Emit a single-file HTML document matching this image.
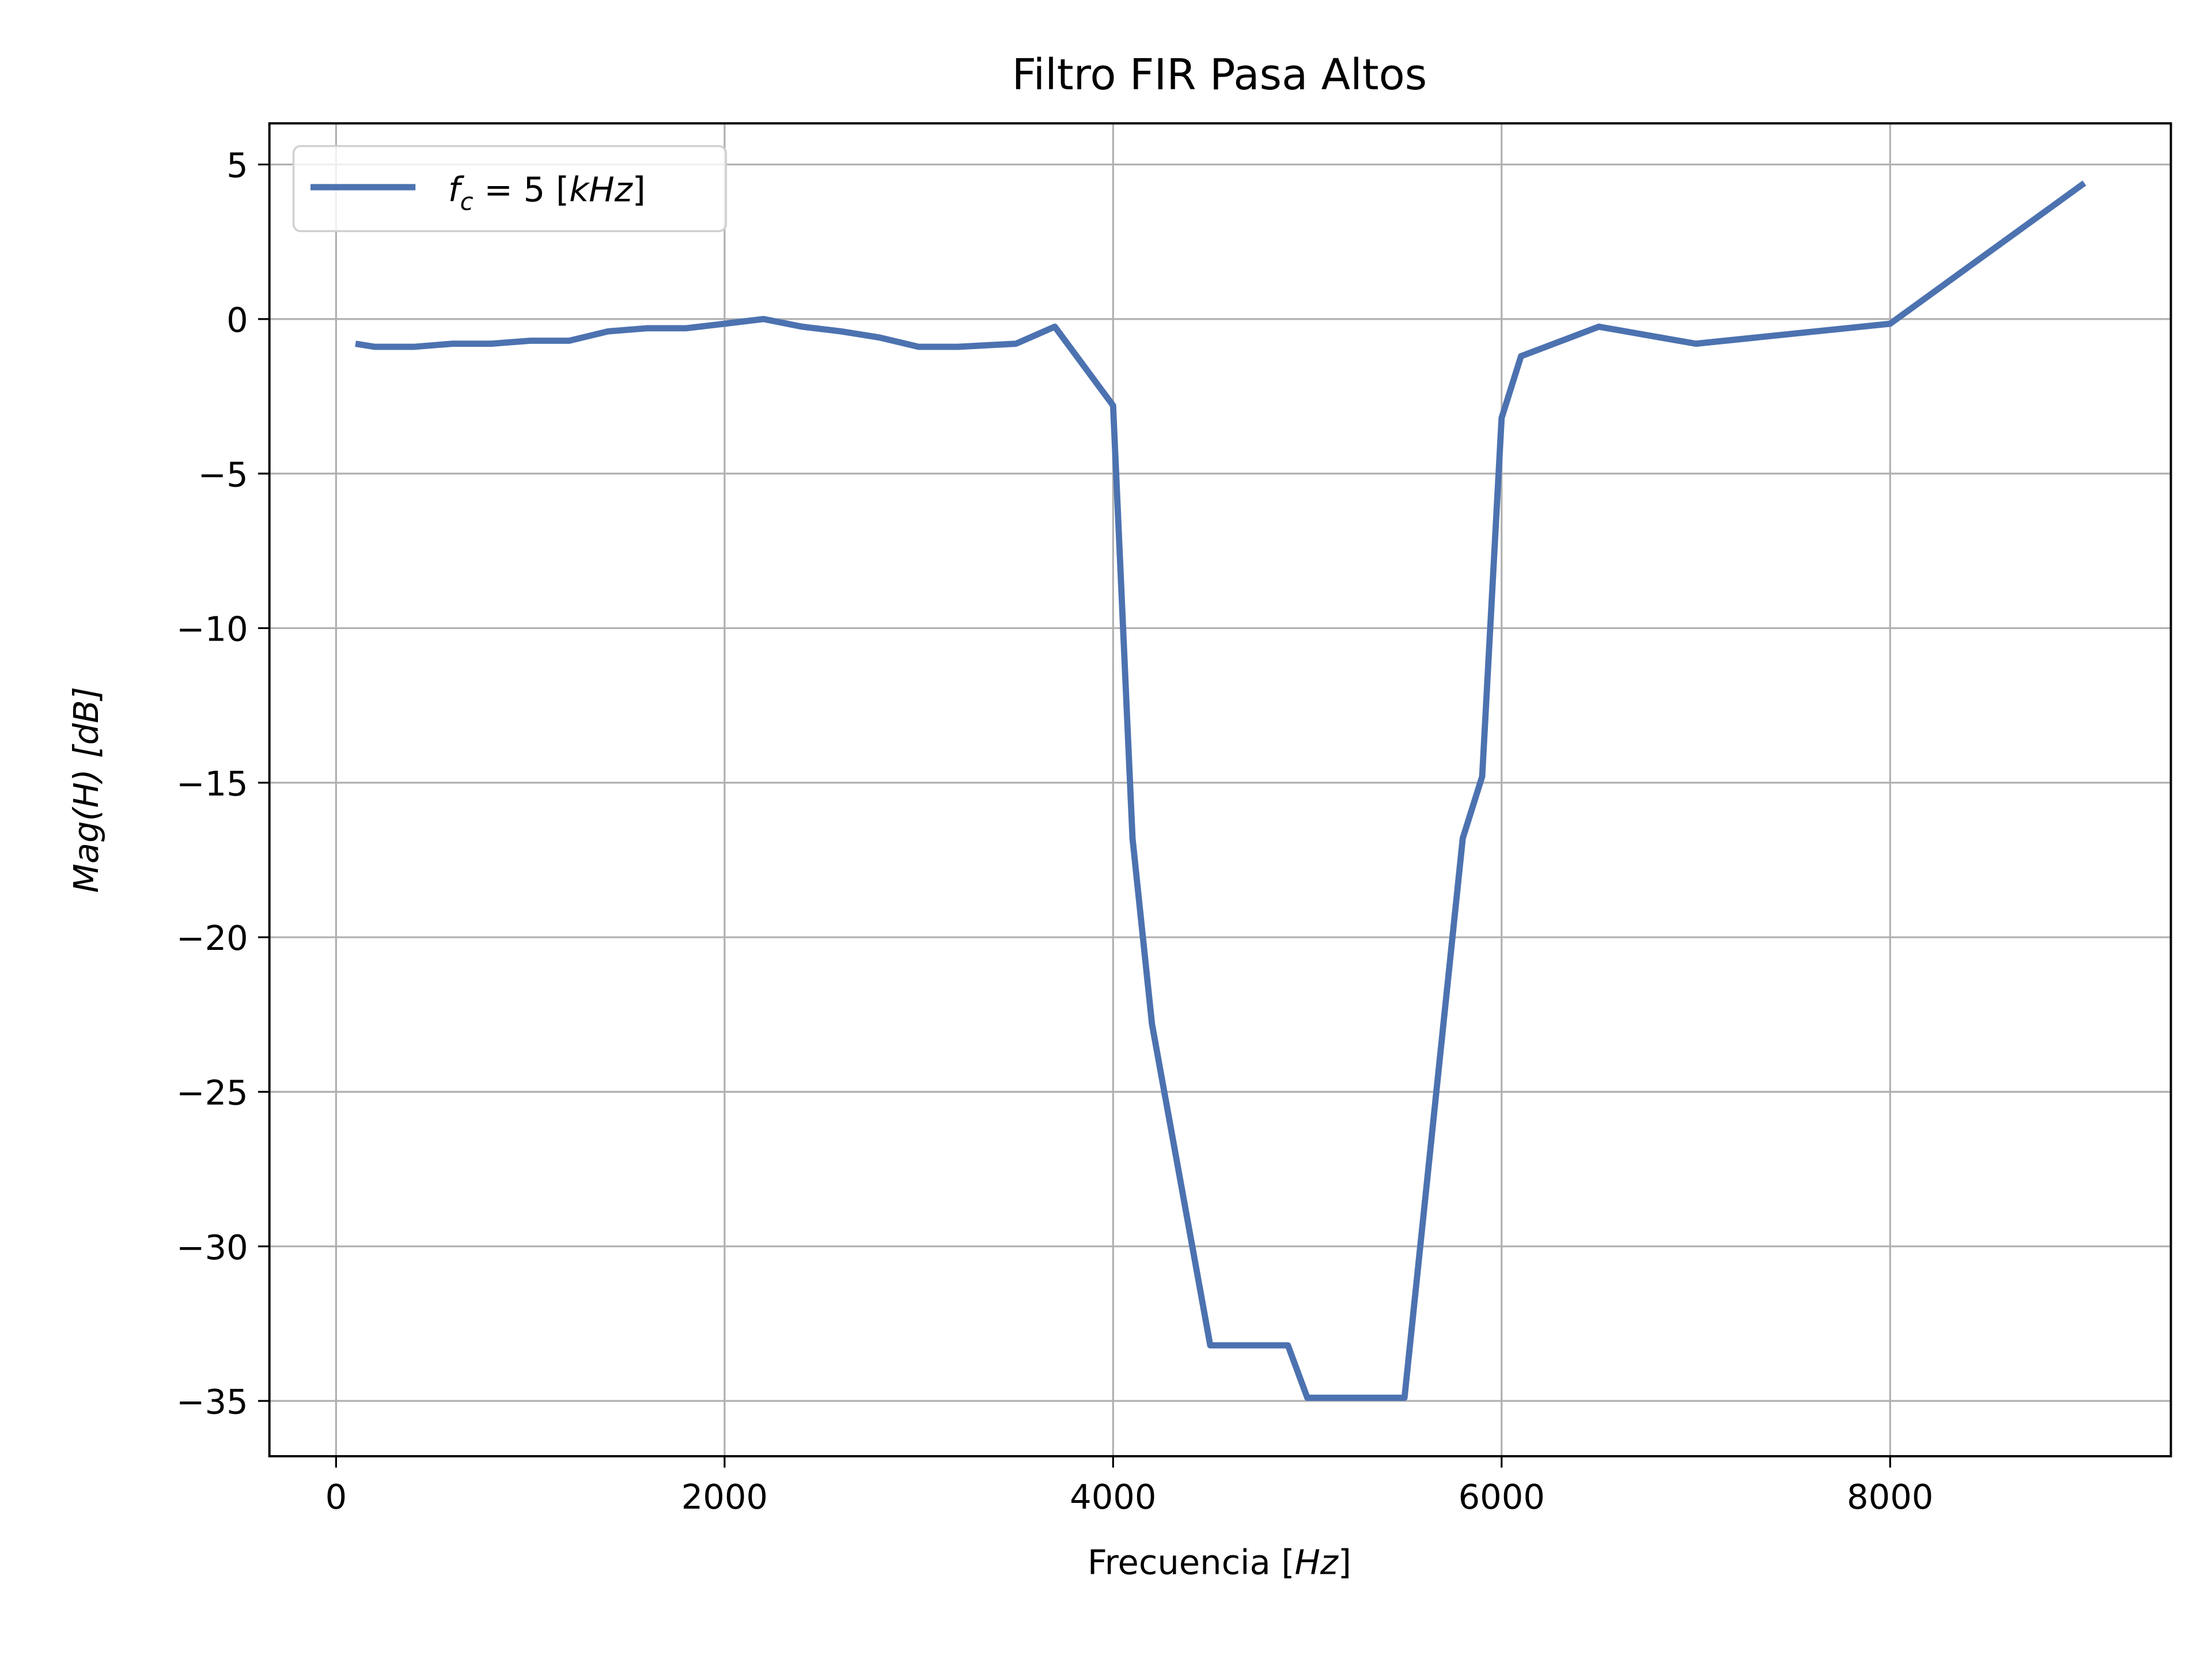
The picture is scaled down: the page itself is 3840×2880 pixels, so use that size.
<!DOCTYPE html>
<html><head><meta charset="utf-8"><style>
html,body{margin:0;padding:0;background:#fff;}
svg{display:block;}
text{font-family:"DejaVu Sans","Liberation Sans",sans-serif;fill:#000;}
</style></head><body>
<svg id="chart" width="3840" height="2880" viewBox="0 0 1560 1170" xmlns="http://www.w3.org/2000/svg">
<rect width="1560" height="1170" fill="#fff"/>
<g id="grid"></g>
<g id="ticks"></g>
<path id="series" fill="none" stroke="#4c72b0" stroke-width="4.4" stroke-linejoin="round"/>
<rect x="190" y="87" width="1341" height="940" fill="none" stroke="#000" stroke-width="1.6"/>
<text x="860" y="63" font-size="30" text-anchor="middle">Filtro FIR Pasa Altos</text>
<text x="860" y="1110" font-size="24" text-anchor="middle">Frecuencia [<tspan font-style="italic">Hz</tspan>]</text>
<text transform="translate(69,557) rotate(-90)" font-size="24" text-anchor="middle" font-style="italic">Mag(H) [dB]</text>
<g>
<rect x="207" y="103" width="305" height="60" rx="5" fill="#fff" fill-opacity="0.8" stroke="#d0d0d0" stroke-width="1.4"/>
<line x1="219" y1="132" x2="293" y2="132" stroke="#4c72b0" stroke-width="4.4"/>
<text x="316" y="142" font-size="24"><tspan font-style="italic">f</tspan><tspan font-style="italic" font-size="17" dy="6">c</tspan><tspan dy="-6"> = 5 [</tspan><tspan font-style="italic">kHz</tspan>]</text>
</g>
</svg>
<script>
const freqs=[100,200,400,600,800,1000,1200,1400,1600,1800,2000,2200,2400,2600,2800,3000,3200,3500,3700,4000,4100,4200,4500,4900,5000,5500,5800,5900,6000,6100,6500,7000,8000,9000];
const mags=[-0.8,-0.9,-0.9,-0.8,-0.8,-0.7,-0.7,-0.4,-0.3,-0.3,-0.15,0,-0.25,-0.4,-0.6,-0.9,-0.9,-0.8,-0.25,-2.8,-16.8,-22.8,-33.2,-33.2,-34.9,-34.9,-16.8,-14.8,-3.2,-1.2,-0.25,-0.8,-0.15,4.4];
const xTicks=[0,2000,4000,6000,8000];
const yTicks=[5,0,-5,-10,-15,-20,-25,-30,-35];
const X=v=>237+v*0.137;
const Y=v=>225-v*21.8;
const NS='http://www.w3.org/2000/svg';
const grid=document.getElementById('grid'),ticks=document.getElementById('ticks');
function mk(tag,attrs,parent){const e=document.createElementNS(NS,tag);for(const k in attrs)e.setAttribute(k,attrs[k]);parent.appendChild(e);return e;}
xTicks.forEach(t=>{
 const g=mk('line',{x1:X(t),x2:X(t),y1:87,y2:1027,stroke:'#b0b0b0','stroke-width':1.3},grid);
 
 
 mk('line',{x1:X(t),x2:X(t),y1:1027,y2:1035,stroke:'#000','stroke-width':1.3},ticks);
 const tx=mk('text',{x:X(t),y:1064,'font-size':24,'text-anchor':'middle'},ticks);
 tx.textContent=String(t);
 
 
});
yTicks.forEach(t=>{
 const g=mk('line',{x1:190,x2:1531,y1:Y(t),y2:Y(t),stroke:'#b0b0b0','stroke-width':1.3},grid);
 
 
 mk('line',{x1:182,x2:190,y1:Y(t),y2:Y(t),stroke:'#000','stroke-width':1.3},ticks);
 const tx=mk('text',{x:175,y:Y(t)+9,'font-size':24,'text-anchor':'end'},ticks);
 tx.textContent=(t<0?'\u2212'+(-t):String(t));
 
 
});
document.getElementById('series').setAttribute('d',freqs.map((f,i)=>(i?'L':'M')+X(f).toFixed(1)+' '+Y(mags[i]).toFixed(1)).join(' '));
</script>
</body></html>
